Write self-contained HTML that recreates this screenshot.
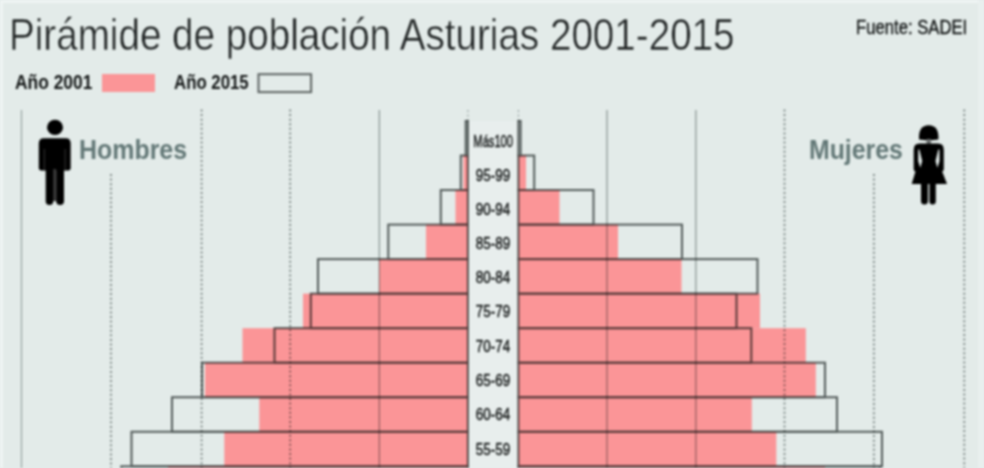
<!DOCTYPE html>
<html><head><meta charset="utf-8"><style>
html,body{margin:0;padding:0}
body{width:984px;height:468px;overflow:hidden;position:relative;background:#e3ebe9;font-family:"Liberation Sans",sans-serif}
.bt{position:absolute;left:0;top:0;width:984px;height:3px;background:#eff4f3}
.bl{position:absolute;left:0;top:0;width:3px;height:468px;background:#eff4f3}
.br{position:absolute;right:0;top:0;width:6px;height:468px;background:#e9efee}
svg{position:absolute;left:0;top:0}
.t{position:absolute;white-space:nowrap;transform-origin:0 0;line-height:1}
.lab{position:absolute;left:462.5px;width:60px;text-align:center;font-size:17px;line-height:18px;color:#121515;-webkit-text-stroke:0.45px #121515;white-space:nowrap;transform-origin:30px 50%}
#wrap{position:absolute;left:0;top:0;width:984px;height:468px;background:#e3ebe9;filter:blur(0.8px)}
</style></head><body><div id="wrap">
<div class="bt"></div><div class="bl"></div><div class="br"></div>
<svg width="984" height="468" viewBox="0 0 984 468">
<rect x="468.9" y="121.0" width="48.5" height="347.0" fill="#e8eeed"/><rect x="467.90" y="121.00" width="0.00" height="34.53" fill="#fb9597"/><rect x="518.40" y="121.00" width="0.00" height="34.53" fill="#fb9597"/><rect x="463.40" y="155.53" width="4.50" height="34.53" fill="#fb9597"/><rect x="518.40" y="155.53" width="7.60" height="34.53" fill="#fb9597"/><rect x="455.50" y="190.06" width="12.40" height="34.53" fill="#fb9597"/><rect x="518.40" y="190.06" width="41.10" height="34.53" fill="#fb9597"/><rect x="426.00" y="224.59" width="41.90" height="34.53" fill="#fb9597"/><rect x="518.40" y="224.59" width="99.60" height="34.53" fill="#fb9597"/><rect x="379.00" y="259.12" width="88.90" height="34.53" fill="#fb9597"/><rect x="518.40" y="259.12" width="163.10" height="34.53" fill="#fb9597"/><rect x="303.00" y="293.65" width="164.90" height="34.53" fill="#fb9597"/><rect x="518.40" y="293.65" width="241.60" height="34.53" fill="#fb9597"/><rect x="242.50" y="328.18" width="225.40" height="34.53" fill="#fb9597"/><rect x="518.40" y="328.18" width="287.40" height="34.53" fill="#fb9597"/><rect x="205.00" y="362.71" width="262.90" height="34.53" fill="#fb9597"/><rect x="518.40" y="362.71" width="297.40" height="34.53" fill="#fb9597"/><rect x="259.30" y="397.24" width="208.60" height="34.53" fill="#fb9597"/><rect x="518.40" y="397.24" width="233.40" height="34.53" fill="#fb9597"/><rect x="224.30" y="431.77" width="243.60" height="34.53" fill="#fb9597"/><rect x="518.40" y="431.77" width="257.90" height="34.53" fill="#fb9597"/><rect x="168.00" y="466.30" width="299.90" height="34.53" fill="#fb9597"/><rect x="518.40" y="466.30" width="306.60" height="34.53" fill="#fb9597"/><g style="mix-blend-mode:multiply"><line x1="21.5" y1="110" x2="21.5" y2="468" stroke="#a3abaa" stroke-width="1.1"/><line x1="379.3" y1="110" x2="379.3" y2="468" stroke="#8c9493" stroke-width="1.1"/><line x1="607.0" y1="110" x2="607.0" y2="468" stroke="#8c9493" stroke-width="1.1"/><line x1="695.9" y1="110" x2="695.9" y2="468" stroke="#8c9493" stroke-width="1.1"/><line x1="111.0" y1="174" x2="111.0" y2="468" stroke="#7a8281" stroke-width="1.6" stroke-dasharray="2 2.58"/><line x1="201.6" y1="109.5" x2="201.6" y2="468" stroke="#7a8281" stroke-width="1.6" stroke-dasharray="2 2.58"/><line x1="290.2" y1="109.5" x2="290.2" y2="468" stroke="#7a8281" stroke-width="1.6" stroke-dasharray="2 2.58"/><line x1="784.5" y1="109.5" x2="784.5" y2="468" stroke="#7a8281" stroke-width="1.6" stroke-dasharray="2 2.58"/><line x1="873.9" y1="174" x2="873.9" y2="468" stroke="#7a8281" stroke-width="1.6" stroke-dasharray="2 2.58"/><line x1="964.3" y1="109.5" x2="964.3" y2="468" stroke="#7a8281" stroke-width="1.6" stroke-dasharray="2 2.58"/><line x1="467.9" y1="110" x2="467.9" y2="121.0" stroke="#9aa2a1" stroke-width="1" stroke-dasharray="2 2.58"/><line x1="518.4" y1="110" x2="518.4" y2="121.0" stroke="#9aa2a1" stroke-width="1" stroke-dasharray="2 2.58"/></g><g fill="none" stroke="#5d6362" stroke-width="2" style="mix-blend-mode:multiply"><rect x="465.70" y="121.00" width="2.20" height="34.53"/><rect x="518.40" y="121.00" width="2.20" height="34.53"/><rect x="460.80" y="155.53" width="7.10" height="34.53"/><rect x="518.40" y="155.53" width="15.80" height="34.53"/><rect x="440.80" y="190.06" width="27.10" height="34.53"/><rect x="518.40" y="190.06" width="75.10" height="34.53"/><rect x="388.30" y="224.59" width="79.60" height="34.53"/><rect x="518.40" y="224.59" width="163.60" height="34.53"/><rect x="318.00" y="259.12" width="149.90" height="34.53"/><rect x="518.40" y="259.12" width="239.10" height="34.53"/><rect x="310.80" y="293.65" width="157.10" height="34.53"/><rect x="518.40" y="293.65" width="218.10" height="34.53"/><rect x="274.50" y="328.18" width="193.40" height="34.53"/><rect x="518.40" y="328.18" width="232.90" height="34.53"/><rect x="202.00" y="362.71" width="265.90" height="34.53"/><rect x="518.40" y="362.71" width="306.60" height="34.53"/><rect x="172.00" y="397.24" width="295.90" height="34.53"/><rect x="518.40" y="397.24" width="318.60" height="34.53"/><rect x="131.50" y="431.77" width="336.40" height="34.53"/><rect x="518.40" y="431.77" width="363.60" height="34.53"/><rect x="121.30" y="466.30" width="346.60" height="34.53"/><rect x="518.40" y="466.30" width="361.60" height="34.53"/></g><g fill="#000">
<ellipse cx="55" cy="127.4" rx="8" ry="7.6"/>
<path d="M44 138.3 H65.7 Q70.7 138.3 70.7 143.5 V167.8 Q70.7 170.4 68.2 170.4 H41.3 Q38.8 170.4 38.8 167.8 V143.5 Q38.8 138.3 44 138.3 Z"/>
<rect x="53" y="169" width="3.3" height="32" fill="#3a3a3a"/>
<path d="M45.7 168 H53.3 V201.3 Q53.3 205 49.5 205 Q45.7 205 45.7 201.3 Z"/>
<path d="M56.2 168 H64 V201.3 Q64 205 60.1 205 Q56.2 205 56.2 201.3 Z"/>
<path d="M44.4 149 V170.4 M65.1 149 V170.4" stroke="#3c3c3c" stroke-width="0.9"/>
</g><g fill="#000">
<path d="M919 139.6 C918.4 130 922 125.2 928.7 125.2 C935.4 125.2 939 130 938.4 139.6 Q928.7 141.2 919 139.6 Z"/>
<rect x="926.5" y="139" width="4.4" height="5" fill="#6a6e6e"/>
<path d="M919.5 143.6 H938 Q943.8 143.6 943.8 150 V169 Q943.8 171.5 941.5 171.5 H916 Q913.7 171.5 913.7 169 V150 Q913.7 143.6 919.5 143.6 Z"/>
<path d="M915.6 171 H942 L947 184 H911.7 Z"/>
<path d="M921 182 H927.9 V201 Q927.9 204.6 924.45 204.6 Q921 204.6 921 201 Z"/>
<path d="M929.4 182 H935.8 V201 Q935.8 204.6 932.6 204.6 Q929.4 204.6 929.4 201 Z"/>
<path d="M918.3 149.5 L919.4 149.5 L922.2 161 L920.3 167.8 L918.2 161 Z M939.4 149.5 L938.3 149.5 L935.5 161 L937.4 167.8 L939.5 161 Z" fill="#e3ebe9"/>
</g><rect x="102" y="74" width="53" height="18" fill="#fb9597"/><rect x="258.5" y="74.2" width="52.6" height="17.9" fill="none" stroke="#5d6362" stroke-width="2"/>
</svg>
<div class="t" id="title" style="left:8.5px;top:13.2px;font-size:44px;color:#202424;-webkit-text-stroke:0.5px #e3ebe9;transform:scaleX(0.8776)">Pirámide de población Asturias 2001-2015</div>
<div class="t" id="fuente" style="left:855.5px;top:16.5px;font-size:20px;color:#121515;-webkit-text-stroke:0.35px #121515;transform:scaleX(0.834)">Fuente: SADEI</div>
<div class="t" id="a1" style="left:14.5px;top:71.6px;font-size:20px;font-weight:bold;color:#121515;transform:scaleX(0.87)">Año 2001</div>
<div class="t" id="a2" style="left:174.3px;top:71.6px;font-size:20px;font-weight:bold;color:#121515;transform:scaleX(0.84)">Año 2015</div>
<div class="t" id="hom" style="left:78.5px;top:135.8px;font-size:27.5px;font-weight:bold;color:#637877;transform:scaleX(0.907)">Hombres</div>
<div class="t" id="muj" style="left:808.6px;top:135.8px;font-size:27.5px;font-weight:bold;color:#637877;transform:scaleX(0.903)">Mujeres</div>
<div class="lab" style="top:132.8px;transform:scaleX(0.655)">Más100</div><div class="lab" style="top:167.2px;transform:scaleX(0.79)">95-99</div><div class="lab" style="top:201.1px;transform:scaleX(0.79)">90-94</div><div class="lab" style="top:235.3px;transform:scaleX(0.79)">85-89</div><div class="lab" style="top:269.1px;transform:scaleX(0.79)">80-84</div><div class="lab" style="top:303.1px;transform:scaleX(0.79)">75-79</div><div class="lab" style="top:337.6px;transform:scaleX(0.79)">70-74</div><div class="lab" style="top:371.8px;transform:scaleX(0.79)">65-69</div><div class="lab" style="top:405.8px;transform:scaleX(0.79)">60-64</div><div class="lab" style="top:440.6px;transform:scaleX(0.79)">55-59</div><div class="lab" style="top:475.0px;transform:scaleX(0.79)">50-54</div>
</div></body></html>
